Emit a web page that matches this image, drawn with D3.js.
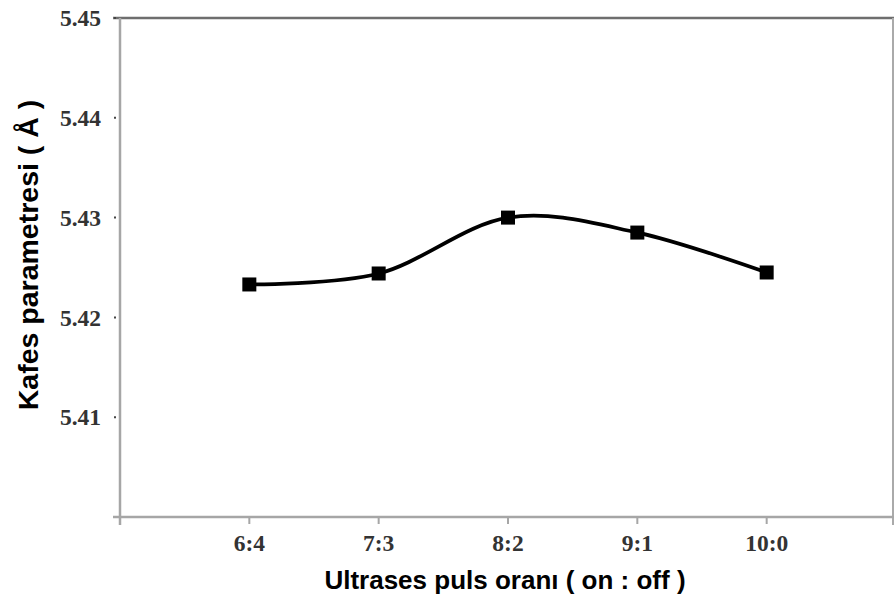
<!DOCTYPE html>
<html>
<head>
<meta charset="utf-8">
<script src="https://cdn.jsdelivr.net/npm/d3@7"></script>
<style>
  body { margin: 0; background: #fff; }
  .tick-label { font-family: "Liberation Serif", "DejaVu Serif", serif; font-weight: bold; font-size: 23.5px; fill: #333; }
  .axis-title { font-family: "Liberation Sans", Arial, sans-serif; font-weight: bold; font-size: 26px; fill: #000; }
</style>
</head>
<body>
<svg id="chart" width="895" height="603"></svg>
<script>
// data
var ratios = ["6:4", "7:3", "8:2", "9:1", "10:0"];
var latticeParam = [5.4233, 5.4244, 5.4300, 5.4285, 5.4245];
var yTicks = [5.41, 5.42, 5.43, 5.44, 5.45];

var margin = {top: 18, right: 1, bottom: 86, left: 120},
    width = 895 - margin.left - margin.right,
    height = 603 - margin.top - margin.bottom;

var svg = d3.select("#chart")
    .append("g")
    .attr("transform", "translate(" + margin.left + "," + margin.top + ")");

// categories sit at index 1..5 on a 0..6 axis
var x = d3.scaleLinear().domain([0, 6]).range([0, 776]);
var y = d3.scaleLinear().domain([5.40, 5.45]).range([height, 0]);

// frame: top and right in darker gray
svg.append("line")
    .attr("x1", -7).attr("x2", width)
    .attr("y1", 0).attr("y2", 0)
    .attr("stroke", "#6e6e6e").attr("stroke-width", 2.5);
svg.append("line")
    .attr("x1", width - 1).attr("x2", width - 1)
    .attr("y1", 0).attr("y2", height + 8)
    .attr("stroke", "#aaa").attr("stroke-width", 2);

// y axis
svg.append("line")
    .attr("x1", 0).attr("x2", 0)
    .attr("y1", 0).attr("y2", height + 8)
    .attr("stroke", "#a6a6a6").attr("stroke-width", 2.5);

svg.selectAll(".ytick")
    .data(yTicks)
    .enter().append("line")
    .attr("x1", -6).attr("x2", -4)
    .attr("y1", function (d) { return y(d); })
    .attr("y2", function (d) { return y(d); })
    .attr("stroke", "#444").attr("stroke-width", 2);

svg.selectAll(".ylabel")
    .data(yTicks)
    .enter().append("text")
    .attr("class", "tick-label")
    .attr("x", -19)
    .attr("y", function (d) { return y(d); })
    .attr("dy", "0.35em")
    .attr("text-anchor", "end")
    .text(function (d) { return d3.format(".2f")(d); });

// x axis
svg.append("line")
    .attr("x1", -7).attr("x2", width)
    .attr("y1", height).attr("y2", height)
    .attr("stroke", "#a6a6a6").attr("stroke-width", 2.5);

svg.selectAll(".xtick")
    .data(ratios)
    .enter().append("line")
    .attr("x1", function (d, i) { return x(i + 1); })
    .attr("x2", function (d, i) { return x(i + 1); })
    .attr("y1", height).attr("y2", height + 7)
    .attr("stroke", "#a6a6a6").attr("stroke-width", 2);

svg.selectAll(".xlabel")
    .data(ratios)
    .enter().append("text")
    .attr("class", "tick-label")
    .attr("x", function (d, i) { return x(i + 1); })
    .attr("y", height + 34)
    .attr("text-anchor", "middle")
    .text(function (d) { return d; });

// smooth line
var line = d3.line()
    .x(function (d, i) { return x(i + 1); })
    .y(function (d) { return y(d); })
    .curve(d3.curveCardinal.tension(0));

svg.append("path")
    .datum(latticeParam)
    .attr("d", line)
    .attr("fill", "none")
    .attr("stroke", "#000")
    .attr("stroke-width", 3.8);

svg.selectAll(".pt")
    .data(latticeParam)
    .enter().append("rect")
    .attr("x", function (d, i) { return x(i + 1) - 7; })
    .attr("y", function (d) { return y(d) - 7; })
    .attr("width", 14).attr("height", 14)
    .attr("fill", "#000");

// axis titles
d3.select("#chart").append("text")
    .attr("class", "axis-title")
    .attr("x", 505).attr("y", 589)
    .attr("text-anchor", "middle")
    .text("Ultrases puls oranı ( on : off )");

d3.select("#chart").append("text")
    .attr("class", "axis-title")
    .attr("transform", "translate(38,255) rotate(-90)")
    .attr("text-anchor", "middle")
    .style("font-size", "28.5px")
    .text("Kafes parametresi ( Å )");
</script>
</body>
</html>
